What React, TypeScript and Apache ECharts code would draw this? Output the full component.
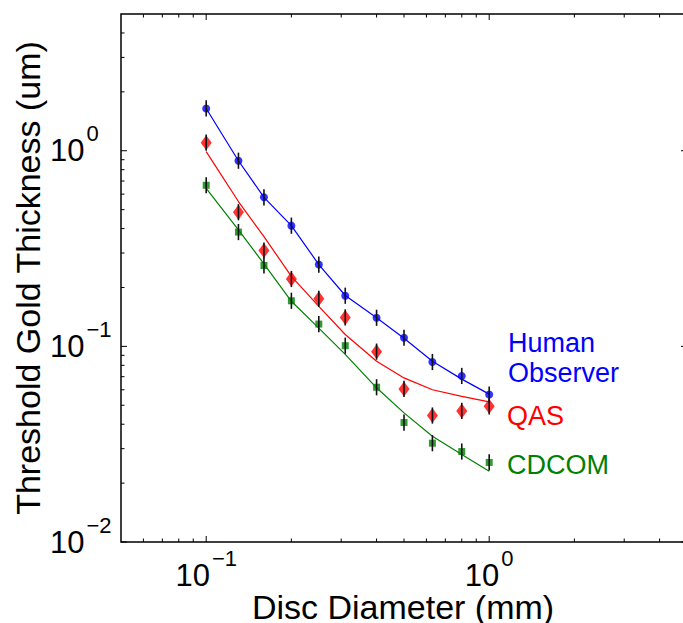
import React, { useEffect, useRef } from 'react';
import * as echarts from 'echarts';

// Disc diameters (mm)
const diameters = [0.1, 0.13, 0.16, 0.2, 0.25, 0.31, 0.4, 0.5, 0.63, 0.8, 1.0];
// Threshold gold thickness (um)
const humanObserver = [1.645, 0.889, 0.578, 0.414, 0.262, 0.1815, 0.14, 0.1107, 0.0832, 0.0706, 0.0567];
const humanFit = [1.645, 0.889, 0.578, 0.414, 0.262, 0.182, 0.14, 0.11, 0.084, 0.068, 0.057];
const qas = [1.099, 0.485, 0.309, 0.221, 0.175, 0.1406, 0.094, 0.0606, 0.0443, 0.0468, 0.0494];
const qasFit = [0.99, 0.55, 0.364, 0.228, 0.16, 0.115, 0.084, 0.069, 0.06, 0.0555, 0.052];
const cdcom = [0.666, 0.384, 0.259, 0.171, 0.13, 0.1008, 0.0618, 0.0408, 0.032, 0.029, 0.0255];
const cdcomFit = [0.643, 0.394, 0.264, 0.17, 0.124, 0.091, 0.0614, 0.0457, 0.0347, 0.028, 0.023];
const errorFactor = 1.1;

// Axis ticks
const xMajorTicks = [0.1, 1];
const xMinorTicks = [0.06, 0.07, 0.08, 0.09, 0.2, 0.3, 0.4, 0.5, 0.6, 0.7, 0.8, 0.9, 2, 3, 4];
const yMajorTicks = [0.01, 0.1, 1];
const yMinorTicks = [
  0.02, 0.03, 0.04, 0.05, 0.06, 0.07, 0.08, 0.09,
  0.2, 0.3, 0.4, 0.5, 0.6, 0.7, 0.8, 0.9, 2, 3, 4,
];

const FONT = '"Liberation Sans", Arial, Helvetica, sans-serif';
const BLUE = '#0000ff';
const RED = '#ff0000';
const GREEN = '#008000';

const MAJOR_LEN = 6;
const MINOR_LEN = 3.5;

function powerLabel(v: number): string {
  const lg = Math.log10(v);
  const e = Math.round(lg);
  if (Math.abs(lg - e) > 1e-6) return '';
  const exp = e < 0 ? '\u2212' + (-e) : String(e);
  return '{b|10}{s|' + exp + '}';
}

const labelRich = {
  b: { fontSize: 31, lineHeight: 56, fontFamily: FONT, color: '#000' },
  s: { fontSize: 22, lineHeight: 22, fontFamily: FONT, color: '#000', verticalAlign: 'top', padding: [0, 0, 0, 2] },
};

function pairs(vals: number[]) {
  return diameters.map((d, i) => [d, vals[i]]);
}

function errorData(vals: number[]) {
  return diameters.map((d, i) => [d, vals[i] / errorFactor, vals[i] * errorFactor]);
}

const errorBarSeries = (vals: number[], name: string) => ({
  type: 'custom',
  name,
  data: errorData(vals),
  encode: { x: 0, y: [1, 2] },
  z: 5,
  silent: true,
  renderItem: (params: any, api: any) => {
    const x = api.value(0);
    const p1 = api.coord([x, api.value(1)]);
    const p2 = api.coord([x, api.value(2)]);
    return {
      type: 'line',
      shape: { x1: p1[0], y1: p1[1], x2: p2[0], y2: p2[1] },
      style: { stroke: '#111', lineWidth: 1.6 },
    };
  },
});

export default function App() {
  const ref = useRef<HTMLDivElement>(null);

  useEffect(() => {
    if (!ref.current) return;
    const chart = echarts.init(ref.current, undefined, { renderer: 'svg' });
    const option: any = {
      animation: false,
      backgroundColor: '#fff',
      grid: {
        left: 121,
        top: 14,
        width: 566,
        height: 528,
        show: true,
        borderColor: '#000',
        borderWidth: 1.5,
        backgroundColor: 'transparent',
        containLabel: false,
      },
      xAxis: {
        type: 'log',
        logBase: 10,
        min: 0.05,
        max: 5,
        axisLine: { show: false },
        axisTick: { show: false },
        splitLine: { show: false },
        minorTick: { show: false },
        axisLabel: {
          margin: 5,
          formatter: powerLabel,
          rich: labelRich,
        },
      },
      yAxis: {
        type: 'log',
        logBase: 10,
        min: 0.01,
        max: 5,
        axisLine: { show: false },
        axisTick: { show: false },
        splitLine: { show: false },
        minorTick: { show: false },
        axisLabel: {
          margin: 71,
          align: 'left',
          formatter: powerLabel,
          rich: labelRich,
        },
      },
      graphic: [
        {
          type: 'text', x: 28, y: 278, rotation: Math.PI / 2,
          style: {
            text: 'Threshold Gold Thickness (um)', fill: '#000',
            font: '34px ' + FONT, align: 'center', verticalAlign: 'middle',
            textAlign: 'center', textVerticalAlign: 'middle',
          },
        },
        {
          type: 'text', x: 403, y: 607,
          style: {
            text: 'Disc Diameter (mm)', fill: '#000',
            font: '34px ' + FONT, align: 'center', verticalAlign: 'middle',
            textAlign: 'center', textVerticalAlign: 'middle',
          },
        },
        {
          type: 'text', x: 508, y: 342.5,
          style: { text: 'Human', fill: BLUE, font: '27px ' + FONT, align: 'left', verticalAlign: 'middle', textAlign: 'left', textVerticalAlign: 'middle' },
        },
        {
          type: 'text', x: 508, y: 373,
          style: { text: 'Observer', fill: BLUE, font: '27px ' + FONT, align: 'left', verticalAlign: 'middle', textAlign: 'left', textVerticalAlign: 'middle' },
        },
        {
          type: 'text', x: 507, y: 416,
          style: { text: 'QAS', fill: RED, font: '27px ' + FONT, align: 'left', verticalAlign: 'middle', textAlign: 'left', textVerticalAlign: 'middle' },
        },
        {
          type: 'text', x: 507, y: 465,
          style: { text: 'CDCOM', fill: GREEN, font: '27px ' + FONT, align: 'left', verticalAlign: 'middle', textAlign: 'left', textVerticalAlign: 'middle' },
        },
      ],
      series: [
        {
          type: 'custom',
          name: 'ticks',
          data: [[1, 1]],
          encode: { x: 0, y: 1 },
          silent: true,
          z: 10,
          clip: false,
          renderItem: (params: any, api: any) => {
            const cs = params.coordSys;
            const left = cs.x;
            const top = cs.y;
            const right = cs.x + cs.width;
            const bottom = cs.y + cs.height;
            const children: any[] = [];
            const add = (x1: number, y1: number, x2: number, y2: number) =>
              children.push({ type: 'line', shape: { x1, y1, x2, y2 }, style: { stroke: '#000', lineWidth: 1 } });
            const xt = (list: number[], len: number) =>
              list.forEach((t) => {
                const px = api.coord([t, 1])[0];
                add(px, bottom, px, bottom - len);
                add(px, top, px, top + len);
              });
            const yt = (list: number[], len: number) =>
              list.forEach((t) => {
                const py = api.coord([1, t])[1];
                add(left, py, left + len, py);
                add(right, py, right - len, py);
              });
            xt(xMajorTicks, MAJOR_LEN);
            xt(xMinorTicks, MINOR_LEN);
            yt(yMajorTicks, MAJOR_LEN);
            yt(yMinorTicks, MINOR_LEN);
            return { type: 'group', children };
          },
        },
        {
          type: 'line', name: 'Human Observer fit', data: pairs(humanFit), showSymbol: false, symbol: 'none',
          lineStyle: { color: BLUE, width: 1.2 }, z: 2, silent: true,
        },
        {
          type: 'line', name: 'QAS fit', data: pairs(qasFit), showSymbol: false, symbol: 'none',
          lineStyle: { color: RED, width: 1.2 }, z: 2, silent: true,
        },
        {
          type: 'line', name: 'CDCOM fit', data: pairs(cdcomFit), showSymbol: false, symbol: 'none',
          lineStyle: { color: GREEN, width: 1.2 }, z: 2, silent: true,
        },
        {
          type: 'scatter', name: 'Human Observer', data: pairs(humanObserver), symbol: 'circle', symbolSize: 8,
          itemStyle: { color: BLUE }, z: 3,
        },
        {
          type: 'scatter', name: 'QAS', data: pairs(qas), symbol: 'diamond', symbolSize: [11, 15],
          itemStyle: { color: RED }, z: 3,
        },
        {
          type: 'scatter', name: 'CDCOM', data: pairs(cdcom), symbol: 'rect', symbolSize: 7,
          itemStyle: { color: GREEN }, z: 3,
        },
        errorBarSeries(humanObserver, 'Human Observer error'),
        errorBarSeries(qas, 'QAS error'),
        errorBarSeries(cdcom, 'CDCOM error'),
      ],
    };
    chart.setOption(option);
    return () => chart.dispose();
  }, []);

  return (
    <div style={{ position: 'fixed', left: 0, top: 0, width: 683, height: 623, overflow: 'hidden', background: '#fff' }}>
      <div ref={ref} style={{ width: 700, height: 623 }} />
    </div>
  );
}
